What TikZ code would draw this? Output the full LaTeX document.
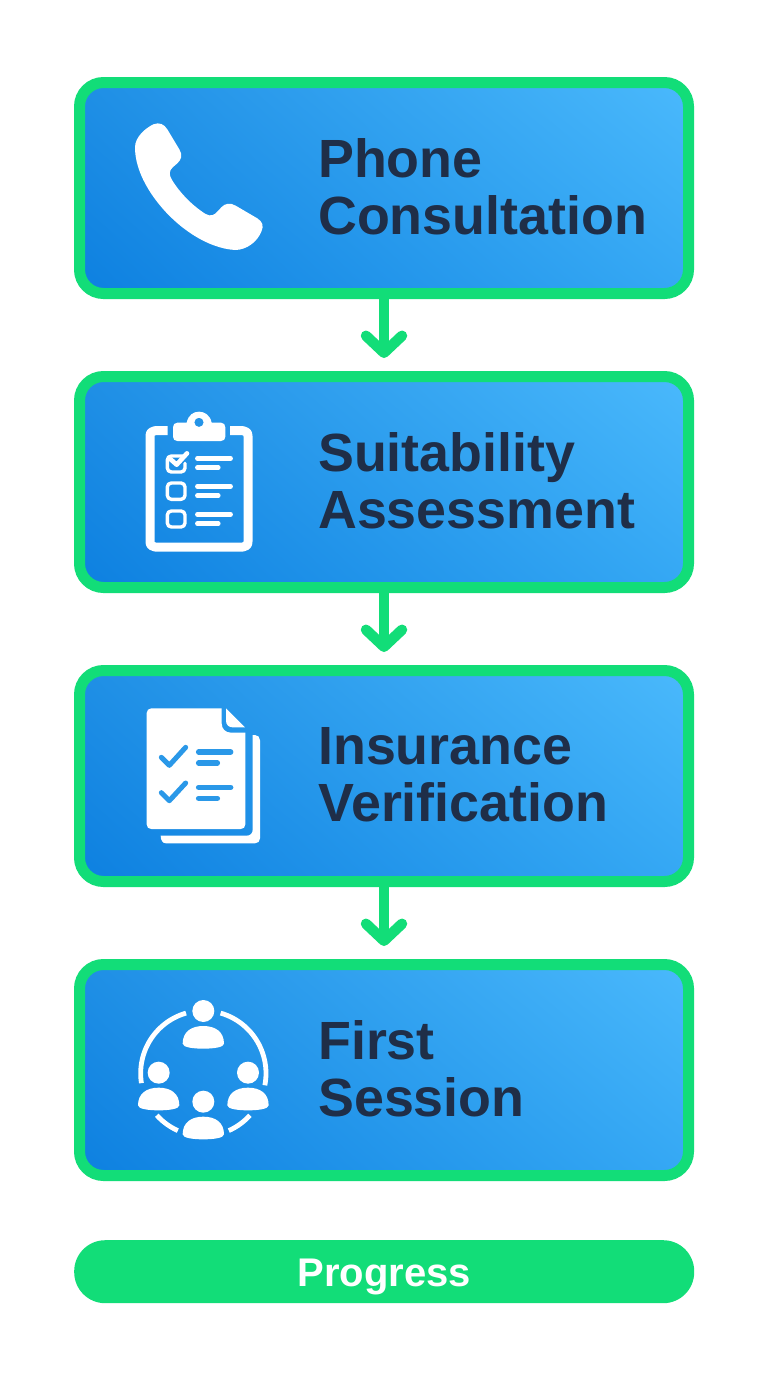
\documentclass[tikz,border=0pt]{standalone}
\usepackage{fontspec}
\setmainfont{Liberation Sans}
\usetikzlibrary{arrows.meta,shadings}
\definecolor{grn}{HTML}{12DD78}
\definecolor{ink}{HTML}{1F2E48}
\definecolor{holeblue}{HTML}{2A98E8}
\definecolor{bll}{HTML}{0D80E0}
\definecolor{blr}{HTML}{35A8F4}
\definecolor{bul}{HTML}{1F8FE5}
\definecolor{bur}{HTML}{4AB9FC}
\tikzset{
  stepbox/.style={draw=grn,line width=11pt,rounded corners=24pt,minimum width=609pt,minimum height=211pt,
    anchor=north west,inner sep=0pt,outer sep=5.5pt,
    lower left=bll,lower right=blr,upper left=bul,upper right=bur,shade},
  steplabel/.style={anchor=west,align=left,inner sep=0pt,text=ink,font=\fontsize{53.8}{57}\selectfont\bfseries},
  flowarrow/.style={draw=grn,line width=10.5pt,-{Straight Barb[round,length=17pt,width=36pt]},shorten >=13pt},
  iconline/.style={draw=white,line cap=round,line join=round},
  iconhole/.style={draw=holeblue,line cap=round,line join=round},
}
\begin{document}
\begin{tikzpicture}[x=1pt,y=-1pt]
\path[use as bounding box,fill=white] (0,0) rectangle (768,1376);

\node[stepbox] (b1) at (74,77) {};
\node[stepbox] (b2) at (74,371) {};
\node[stepbox] (b3) at (74,665) {};
\node[stepbox] (b4) at (74,959) {};

\node[steplabel] (t1) at (318,187) {Phone\\Consultation};
\node[steplabel] (t2) at (318,481) {Suitability\\Assessment};
\node[steplabel] (t3) at (318,775) {Insurance\\Verification};
\node[steplabel] (t4) at (318,1069) {First\\Session};

\draw[flowarrow] (b1.south) -- (b2.north);
\draw[flowarrow] (b2.south) -- (b3.north);
\draw[flowarrow] (b3.south) -- (b4.north);

\node[fill=grn,rounded corners=31pt,minimum width=620pt,minimum height=63pt,inner sep=0pt,anchor=north west,
  text=white,font=\fontsize{40}{44}\selectfont\bfseries,text height=28.6pt,text depth=0pt] (pill) at (74,1240) {Progress};

% phone
\begin{scope}[shift={(60,60)},scale=1/3]
\fill[white] (225,262) .. controls (225,232) and (255,205) .. (280,193)
  .. controls (298,186) and (312,192) .. (322,208)
  -- (358,268) .. controls (368,285) and (365,298) .. (352,310)
  -- (338,322) .. controls (327,332) and (327,345) .. (335,358)
  .. controls (358,397) and (398,438) .. (437,462)
  .. controls (452,470) and (462,466) .. (472,455)
  -- (484,442) .. controls (495,430) and (510,427) .. (527,437)
  -- (592,475) .. controls (608,485) and (612,498) .. (604,515)
  .. controls (592,545) and (560,570) .. (525,570)
  .. controls (440,565) and (350,500) .. (295,430)
  .. controls (255,380) and (225,320) .. (225,262) -- cycle;
\end{scope}

% clipboard
\begin{scope}[shift={(120,400)},scale=1/3]
\draw[iconline,line width=9pt,line cap=butt] (143,92) -- (105,92) .. controls (96,92) and (90,98) .. (90,108)
  -- (90,425) .. controls (90,435) and (96,441) .. (105,441) -- (369,441)
  .. controls (378,441) and (384,435) .. (384,425) -- (384,108)
  .. controls (384,98) and (378,92) .. (369,92) -- (330,92);
\fill[white,even odd rule] (172,68) -- (200,68) .. controls (205,45) and (220,35) .. (237,35)
  .. controls (254,35) and (270,45) .. (275,68) -- (303,68)
  .. controls (311,68) and (316,74) .. (316,82) -- (316,110)
  .. controls (316,118) and (311,123) .. (303,123) -- (172,123)
  .. controls (164,123) and (159,118) .. (159,110) -- (159,82)
  .. controls (159,74) and (164,68) .. (172,68) -- cycle
  (237,67) circle[radius=14];
\draw[iconline,line width=3.4pt,rounded corners=4pt] (190,168) -- (142,168) -- (142,216) -- (195,216) -- (195,190);
\draw[iconline,line width=4.6pt] (152,178) -- (170,194) -- (201,160);
\draw[iconline,line width=3.4pt,rounded corners=4pt] (142,249) rectangle (195,298);
\draw[iconline,line width=3.4pt,rounded corners=4pt] (142,333) rectangle (195,381);
\foreach \yy in {0,84,168}{
  \draw[iconline,line width=4.5pt] (232,175+\yy) -- (332,175+\yy);
  \draw[iconline,line width=4.5pt] (232,203+\yy) -- (295,203+\yy);
}
\end{scope}

% document
\begin{scope}[shift={(120,695)},scale=1/3]
\fill[white] (398,120) -- (405,120) .. controls (414,120) and (420,127) .. (420,136)
  -- (420,430) .. controls (420,439) and (414,445) .. (405,445)
  -- (138,445) .. controls (128,445) and (122,436) .. (122,422)
  -- (380,422) .. controls (391,422) and (398,415) .. (398,404) -- cycle;
\fill[white] (94,40) -- (305,40) -- (305,85) .. controls (305,102) and (317,113) .. (333,113)
  -- (376,113) -- (376,388) .. controls (376,397) and (370,402) .. (362,402)
  -- (94,402) .. controls (86,402) and (80,397) .. (80,388) -- (80,54)
  .. controls (80,46) and (86,40) .. (94,40) -- cycle;
\fill[white] (318,40) -- (375,97) -- (338,97) .. controls (326,97) and (318,89) .. (318,77) -- cycle;
\draw[iconhole,line width=5pt] (124,187) -- (148,211) -- (197,157);
\draw[iconhole,line width=5pt] (124,293) -- (148,317) -- (197,264);
\draw[iconhole,line width=5.5pt] (236,171) -- (332,171);
\draw[iconhole,line width=5.5pt] (236,204) -- (292,204);
\draw[iconhole,line width=5.5pt] (236,277) -- (332,277);
\draw[iconhole,line width=5.5pt] (236,310) -- (292,310);
\end{scope}

% people
\begin{scope}[shift={(120,990)},scale=1/3]
\draw[white,line width=4.8pt] plot[domain=106:189,samples=40] ({250+188*cos(\x)},{250-188*sin(\x)});
\draw[white,line width=4.8pt] plot[domain=74:-11,samples=40] ({250+188*cos(\x)},{250-188*sin(\x)});
\draw[white,line width=4.8pt] plot[domain=222:246,samples=20] ({250+188*cos(\x)},{250-188*sin(\x)});
\draw[white,line width=4.8pt] plot[domain=318:294,samples=20] ({250+188*cos(\x)},{250-188*sin(\x)});
\foreach \hx/\hy in {250/63,116/248,384/248,250/335}{
  \fill[white] (\hx,\hy) circle[radius=33];
  \fill[white] (\hx-62,\hy+98) .. controls (\hx-62,\hy+62) and (\hx-36,\hy+45) .. (\hx,\hy+45)
    .. controls (\hx+36,\hy+45) and (\hx+62,\hy+62) .. (\hx+62,\hy+98)
    .. controls (\hx+62,\hy+109) and (\hx+30,\hy+113) .. (\hx,\hy+113)
    .. controls (\hx-30,\hy+113) and (\hx-62,\hy+109) .. (\hx-62,\hy+98) -- cycle;
}
\end{scope}
\end{tikzpicture}
\end{document}
